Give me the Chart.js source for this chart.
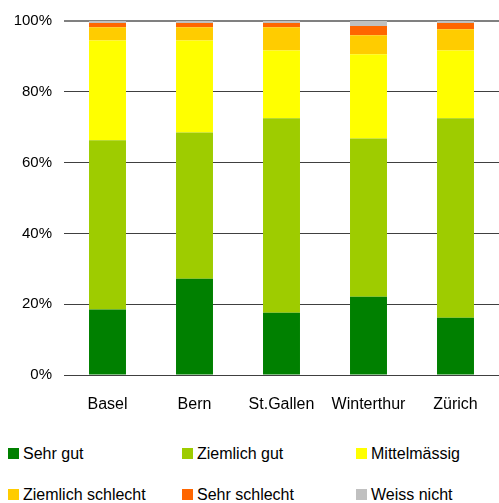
<!DOCTYPE html>
<html>
<head>
<meta charset="utf-8">
<script src="https://cdn.jsdelivr.net/npm/chart.js@4"></script>
<style>
  body { margin: 0; background: #fff; font-family: "Liberation Sans", Arial, sans-serif; }
  #wrap { position: relative; width: 499px; height: 503px; overflow: hidden; }
  #legende { position: absolute; left: 0; top: 0; }
  .item { position: absolute; font-size: 16px; color: #000; white-space: nowrap; line-height: 16px; }
  .item span { position: absolute; left: -15px; top: 2px; width: 11px; height: 11px; }
</style>
</head>
<body>
<div id="wrap">
  <canvas id="myChart" width="499" height="420"></canvas>
  <div id="legende"></div>
</div>
<script>
// Städte
const staedte = ['Basel', 'Bern', 'St.Gallen', 'Winterthur', 'Zürich'];

// Anteile in %
const sehrGut = [18.5, 27.2, 17.6, 22.1, 16.2];
const ziemlichGut = [47.8, 41.3, 54.9, 44.7, 56.3];
const mittelmaessig = [28.2, 26.0, 19.2, 23.8, 19.2];
const ziemlichSchlecht = [3.7, 3.7, 6.5, 5.4, 6.0];
const sehrSchlecht = [1.2, 1.2, 1.2, 2.6, 1.7];
const weissNicht = [0.6, 0.6, 0.6, 1.4, 0.6];

const serienNamen = ['Sehr gut', 'Ziemlich gut', 'Mittelmässig', 'Ziemlich schlecht', 'Sehr schlecht', 'Weiss nicht'];
const farben = ['#008000', '#9ECC00', '#FFFF00', '#FFCC00', '#FF6600', '#C0C0C0'];
const yTicks = [0, 20, 40, 60, 80, 100];

const werte = [sehrGut, ziemlichGut, mittelmaessig, ziemlichSchlecht, sehrSchlecht, weissNicht];

const datasets = serienNamen.map((name, i) => ({
  label: name,
  data: werte[i],
  backgroundColor: farben[i],
  borderWidth: 0,
  categoryPercentage: 1,
  barPercentage: 0.425
}));

const schrift = { family: '"Liberation Sans", Arial, sans-serif', size: 15 };

new Chart(document.getElementById('myChart'), {
  type: 'bar',
  data: { labels: staedte, datasets: datasets },
  options: {
    responsive: false,
    animation: false,
    layout: { padding: { top: 21, right: 0, left: 0, bottom: 0 } },
    plugins: { legend: { display: false }, tooltip: { enabled: false } },
    scales: {
      x: {
        stacked: true,
        grid: { display: false, drawTicks: false },
        border: { display: false },
        ticks: { color: '#000', font: { family: schrift.family, size: 16 }, padding: 20, maxRotation: 0 },
        afterFit: (s) => { s.height = 45; }
      },
      y: {
        stacked: true,
        min: 0,
        max: 100,
        afterBuildTicks: (s) => { s.ticks = yTicks.map(v => ({ value: v })); },
        grid: {
          drawTicks: false,
          color: (c) => c.tick && c.tick.value === 100 ? '#808080' : '#404040',
          lineWidth: (c) => c.tick && c.tick.value === 100 ? 2 : 1
        },
        border: { display: false },
        ticks: {
          color: '#000',
          font: schrift,
          padding: 12,
          callback: (v) => v + '%'
        },
        afterFit: (s) => { s.width = 64; }
      }
    }
  }
});

// Legende: 3 Spalten, 2 Zeilen
const legende = document.getElementById('legende');
const spaltenX = [23, 197, 371];
const zeilenY = [446, 487];
serienNamen.forEach((name, i) => {
  const d = document.createElement('div');
  d.className = 'item';
  d.style.left = spaltenX[i % 3] + 'px';
  d.style.top = zeilenY[Math.floor(i / 3)] + 'px';
  d.innerHTML = '<span style="background:' + farben[i] + '"></span>' + name;
  legende.appendChild(d);
});
</script>
</body>
</html>
